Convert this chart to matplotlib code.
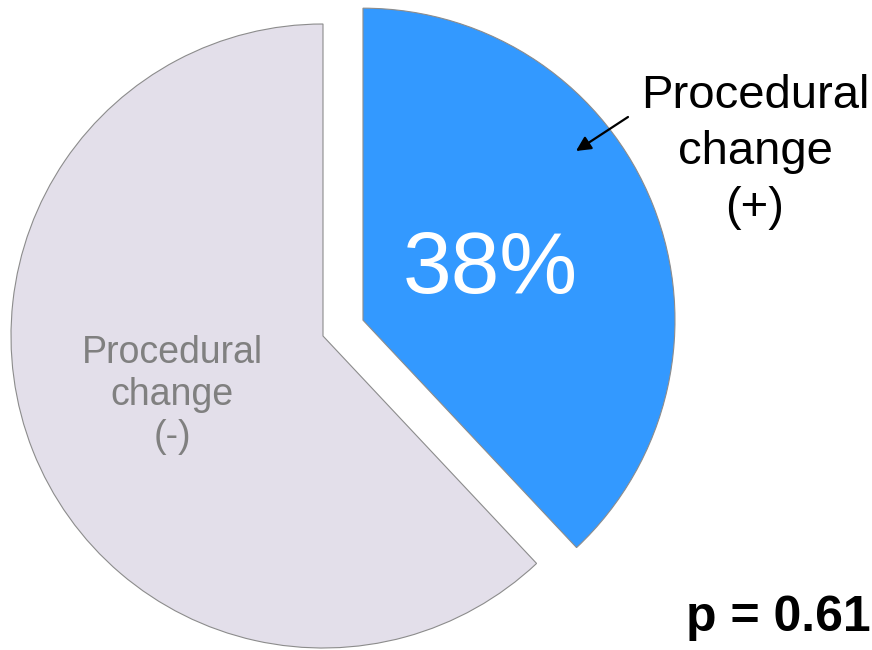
import matplotlib.pyplot as plt

plt.rcParams['font.family'] = ['Liberation Sans', 'DejaVu Sans']

# shares of procedures with / without a change
labels = ["Procedural\nchange\n(+)", "Procedural\nchange\n(-)"]
shares = [38, 62]
colors = ["#3399FF", "#E3DFEA"]
p_value = 0.61

fig = plt.figure(figsize=(8.72, 6.5), dpi=100)
ax = fig.add_axes([0, 0, 1, 1])

center = (323, 314)
radius = 312
# explode is in data units here, since the radius is in pixels
explode = [43, 0]
wedges, _ = ax.pie(shares, colors=colors, explode=explode, startangle=90,
                   counterclock=False, center=center, radius=radius,
                   wedgeprops=dict(edgecolor="#8c8c8c", linewidth=0.8))

ax.set_xlim(0, 872)
ax.set_ylim(0, 650)
ax.set_aspect('equal')
ax.axis('off')

# percentage inside the blue wedge
ax.text(490, 379, f"{shares[0]}%", color="white", fontsize=63,
        ha='center', va='center')

# label of the grey wedge
ax.text(172, 255, labels[1], color="#808080", fontsize=27,
        ha='center', va='center', linespacing=1.2)

# label of the blue wedge with an arrow
ax.text(755, 498, labels[0], fontsize=34, ha='center', va='center',
        linespacing=1.35)
ax.annotate("", xy=(576, 499), xytext=(628, 533),
            arrowprops=dict(arrowstyle='-|>', color='black', lw=1.6,
                            mutation_scale=22, shrinkA=0, shrinkB=0))

ax.text(686, 19, f"p = {p_value}", fontsize=36, fontweight='bold',
        ha='left', va='baseline')

fig.savefig("out.png", dpi=100)
